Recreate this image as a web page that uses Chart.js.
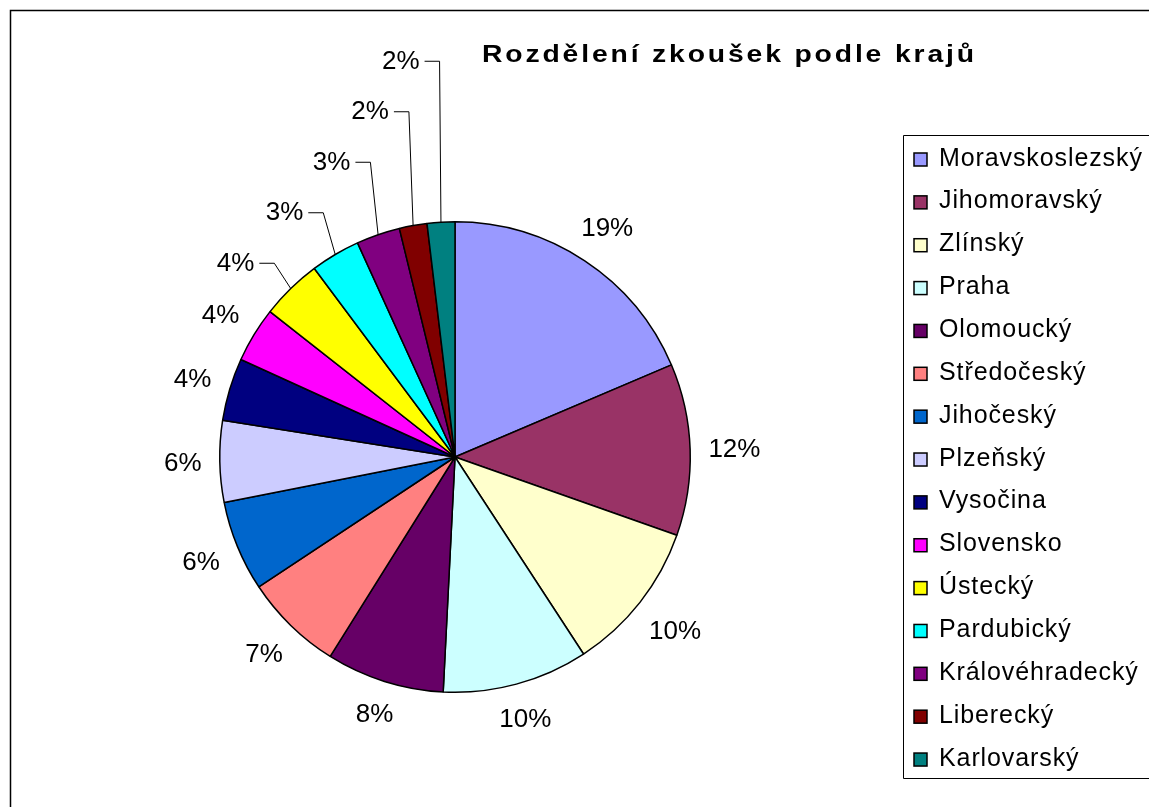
<!DOCTYPE html>
<html>
<head>
<meta charset="utf-8">
<script src="https://cdn.jsdelivr.net/npm/chart.js@4/dist/chart.umd.min.js"></script>
<style>
  html, body { margin: 0; padding: 0; background: #ffffff; overflow: hidden; }
  #wrap { position: relative; width: 1149px; height: 807px; }
  canvas { display: block; }
</style>
</head>
<body>
<div id="wrap"><canvas id="c" width="1149" height="807"></canvas></div>
<script>
const chartTitle = 'Rozdělení zkoušek podle krajů';
const categories = ['Moravskoslezský', 'Jihomoravský', 'Zlínský', 'Praha', 'Olomoucký', 'Středočeský', 'Jihočeský', 'Plzeňský', 'Vysočina', 'Slovensko', 'Ústecký', 'Pardubický', 'Královéhradecký', 'Liberecký', 'Karlovarský'];
const shares = [18.6, 11.8, 10.4, 10.0, 8.1, 6.8, 6.2, 5.6, 4.3, 3.8, 4.2, 3.4, 3.0, 1.9, 1.9];
const sliceColors = ['#9999FF', '#993366', '#FFFFCC', '#CCFFFF', '#660066', '#FF8080', '#0066CC', '#CCCCFF', '#000080', '#FF00FF', '#FFFF00', '#00FFFF', '#800080', '#800000', '#008080'];
const leaderFrom = 10; // slices from this index on get leader lines

const FONT = '"Liberation Sans", Arial, sans-serif';

const decorPlugin = {
  id: 'decor',
  afterDraw(chart) {
    const ctx = chart.ctx;
    const meta = chart.getDatasetMeta(0);
    const data = chart.data.datasets[0].data;
    const total = data.reduce((a, b) => a + b, 0);
    const hasLS = ('letterSpacing' in ctx);
    ctx.save();

    // outer frame (top and left edges visible)
    ctx.strokeStyle = '#000';
    ctx.lineWidth = 1.5;
    ctx.beginPath();
    ctx.moveTo(10.5, 830);
    ctx.lineTo(10.5, 10.5);
    ctx.lineTo(1200, 10.5);
    ctx.stroke();

    // title: wide bold lettering
    ctx.fillStyle = '#000';
    ctx.font = 'bold 24px ' + FONT;
    ctx.textAlign = 'left';
    ctx.textBaseline = 'alphabetic';
    const sx = 1.18;
    const targetW = 492;
    const w0 = ctx.measureText(chartTitle).width;
    const n = chartTitle.length - 1;
    const ls = hasLS ? Math.max(0, (targetW - w0 * sx) / n / sx) : 0;
    if (hasLS) ctx.letterSpacing = ls + 'px';
    const wScaled = (w0 + ls * n) * sx;
    ctx.save();
    ctx.translate(728 - wScaled / 2, 62);
    ctx.scale(sx, 1);
    ctx.fillText(chartTitle, 0, 0);
    ctx.restore();
    if (hasLS) ctx.letterSpacing = '0px';

    // data labels
    ctx.font = '26px ' + FONT;
    ctx.textBaseline = 'middle';
    ctx.lineWidth = 1;
    ctx.strokeStyle = '#000';
    ctx.fillStyle = '#000';
    meta.data.forEach((arc, i) => {
      const p = arc.getProps(['x', 'y', 'startAngle', 'endAngle', 'outerRadius'], true);
      const mid = (p.startAngle + p.endAngle) / 2;
      const txt = Math.round(data[i] / total * 100) + '%';
      if (i < leaderFrom) {
        const w = ctx.measureText(txt).width;
        const c = Math.cos(mid), s = Math.sin(mid);
        const d = p.outerRadius + 18 + Math.abs(c) * w / 2 + Math.abs(s) * 10;
        ctx.textAlign = 'center';
        ctx.fillText(txt, p.x + c * d, p.y + s * d + 2);
      } else {
        const k = i - leaderFrom;
        const ax = p.x + Math.cos(mid) * p.outerRadius;
        const ay = p.y + Math.sin(mid) * p.outerRadius;
        const ex = ax + (ax - p.x) * 0.1;
        const ey = p.y - p.outerRadius + 41 - 50.5 * k;
        ctx.beginPath();
        ctx.moveTo(ax, ay);
        ctx.lineTo(ex, ey + 0.5);
        ctx.lineTo(ex - 15, ey + 0.5);
        ctx.stroke();
        ctx.textAlign = 'right';
        ctx.fillText(txt, ex - 20, ey + 1);
      }
    });

    // legend
    const lx = 903.5, ly = 135.5, lb = 778.5;
    ctx.lineWidth = 1;
    ctx.strokeStyle = '#000';
    ctx.beginPath();
    ctx.moveTo(1200, ly);
    ctx.lineTo(lx, ly);
    ctx.lineTo(lx, lb);
    ctx.lineTo(1200, lb);
    ctx.stroke();
    ctx.font = '25px ' + FONT;
    ctx.textAlign = 'left';
    ctx.textBaseline = 'alphabetic';
    if (hasLS) ctx.letterSpacing = '0.9px';
    const step = 42.86;
    chart.data.labels.forEach((lab, i) => {
      const yy = 153 + step * i;
      ctx.fillStyle = sliceColors[i];
      ctx.fillRect(914, yy, 13, 13);
      ctx.strokeStyle = '#000';
      ctx.lineWidth = 1.5;
      ctx.strokeRect(914, yy, 13, 13);
      ctx.fillStyle = '#000';
      ctx.fillText(lab, 939, yy + 12.5);
    });
    ctx.restore();
  }
};

new Chart(document.getElementById('c'), {
  type: 'pie',
  data: {
    labels: categories,
    datasets: [{
      data: shares,
      backgroundColor: sliceColors,
      borderColor: '#000000',
      borderWidth: 1.5
    }]
  },
  options: {
    responsive: false,
    animation: false,
    layout: { padding: { left: 219, top: 221, right: 458, bottom: 114 } },
    plugins: {
      legend: { display: false },
      title: { display: false },
      tooltip: { enabled: false }
    }
  },
  plugins: [decorPlugin]
});
</script>
</body>
</html>
